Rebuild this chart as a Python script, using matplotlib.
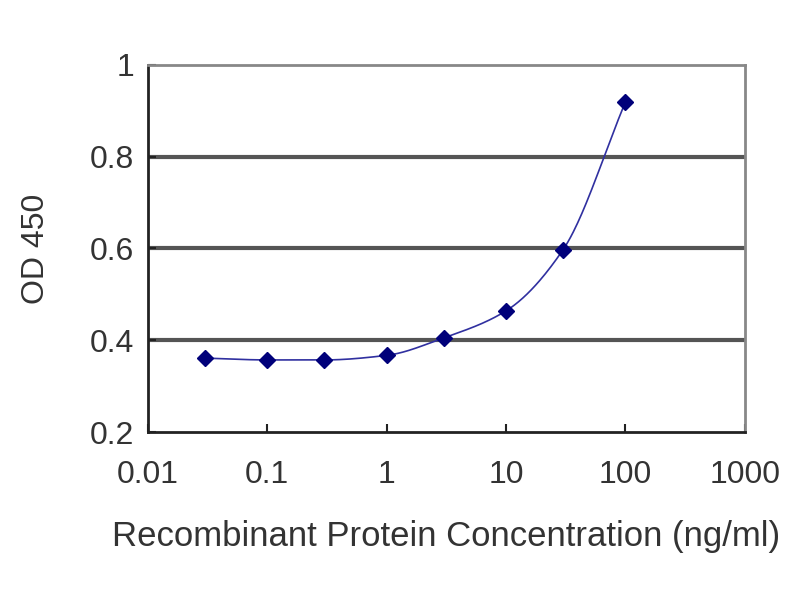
import numpy as np
import matplotlib.pyplot as plt

concentration = [0.03, 0.1, 0.3, 1, 3, 10, 30, 100]
od450 = [0.361, 0.357, 0.357, 0.367, 0.405, 0.464, 0.597, 0.919]
x_ticks = [0.01, 0.1, 1, 10, 100, 1000]
x_tick_labels = ["0.01", "0.1", "1", "10", "100", "1000"]
y_ticks = [0.2, 0.4, 0.6, 0.8, 1.0]
y_tick_labels = ["0.2", "0.4", "0.6", "0.8", "1"]


def smooth_curve(xs, ys, n=300):
    # monotone cubic through the points, in log10(x)
    lx = np.log10(xs)
    y = np.asarray(ys, dtype=float)
    h = np.diff(lx)
    d = np.diff(y) / h
    m = np.zeros_like(y)
    m[0], m[-1] = d[0], d[-1]
    for i in range(1, len(y) - 1):
        if d[i - 1] * d[i] > 0:
            w1 = 2 * h[i] + h[i - 1]
            w2 = h[i] + 2 * h[i - 1]
            m[i] = (w1 + w2) / (w1 / d[i - 1] + w2 / d[i])
    tx = np.linspace(lx[0], lx[-1], n)
    ty = np.empty_like(tx)
    for j, t in enumerate(tx):
        i = min(np.searchsorted(lx, t, side="right") - 1, len(h) - 1)
        s = (t - lx[i]) / h[i]
        h00 = 2 * s**3 - 3 * s**2 + 1
        h10 = s**3 - 2 * s**2 + s
        h01 = -2 * s**3 + 3 * s**2
        h11 = s**3 - s**2
        ty[j] = h00 * y[i] + h10 * h[i] * m[i] + h01 * y[i + 1] + h11 * h[i] * m[i + 1]
    return 10 ** tx, ty


plt.rcParams['font.family'] = ['Liberation Sans', 'DejaVu Sans']

fig = plt.figure(figsize=(8, 6), dpi=100)
ax = fig.add_axes([0.185, 0.28, 0.746, 0.612])

for yv in [0.4, 0.6, 0.8]:
    ax.axhline(yv, color="#555555", lw=3, zorder=1)

cx, cy = smooth_curve(concentration, od450)
ax.plot(cx, cy, color="#3030a0", lw=1.2, zorder=2)
ax.plot(concentration, od450, ls="none", marker="D", ms=8,
        color="#00007a", zorder=3)

ax.set_xscale("log")
ax.set_xlim(0.01, 1000)
ax.set_ylim(0.2, 1.0)
ax.set_xticks(x_ticks)
ax.set_xticklabels(x_tick_labels)
ax.set_yticks(y_ticks)
ax.set_yticklabels(y_tick_labels)
ax.minorticks_off()

for side in ["top", "right"]:
    ax.spines[side].set_color("#888888")
    ax.spines[side].set_linewidth(2)
for side in ["left", "bottom"]:
    ax.spines[side].set_color("#222222")
    ax.spines[side].set_linewidth(2)

ax.tick_params(axis="x", direction="in", length=6, width=1.5, labelsize=23,
               pad=20, colors="#222222", labelcolor="#333333")
ax.tick_params(axis="y", direction="in", length=6, width=1.5, labelsize=23,
               pad=10, colors="#222222", labelcolor="#333333")

ax.set_xlabel("Recombinant Protein Concentration (ng/ml)", fontsize=25,
              color="#333333", labelpad=22)
ax.set_ylabel("OD 450", fontsize=23, color="#333333", labelpad=28)

fig.savefig("out.png", dpi=100)
